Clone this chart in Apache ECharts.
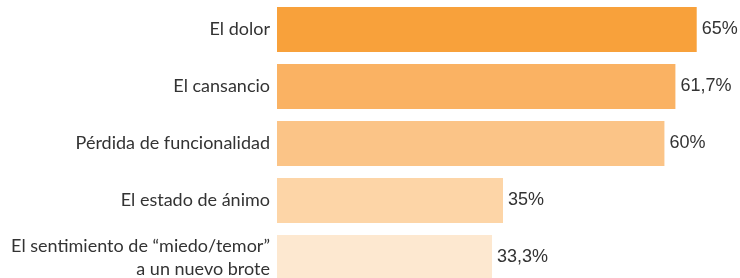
<!DOCTYPE html>
<html>
<head>
<meta charset="utf-8">
<script src="https://cdn.jsdelivr.net/npm/echarts@6/dist/echarts.min.js"></script>
<style>
  html, body { margin: 0; padding: 0; background: #fff; }
  #chart { width: 740px; height: 278px; }
</style>
</head>
<body>
<div id="chart"></div>
<script>
// categorias, de arriba a abajo
const categories = [
    'El dolor',
    'El cansancio',
    'Pérdida de funcionalidad',
    'El estado de ánimo',
    'El sentimiento de “miedo/temor”\na un nuevo brote'
];
const values = [65, 61.7, 60, 35, 33.3];
const valueLabels = ['65%', '61,7%', '60%', '35%', '33,3%'];
const barColors = ['#F8A13B', '#FAB263', '#FBC487', '#FDD5A7', '#FDE8D0'];

const chart = echarts.init(document.getElementById('chart'));

const option = {
    animation: false,
    grid: {
        left: 277,
        right: 11,
        top: 1,
        height: 285,
        outerBoundsMode: 'none'
    },
    xAxis: {
        type: 'value',
        min: 0,
        max: 70,
        show: false
    },
    yAxis: {
        type: 'category',
        inverse: true,
        data: categories,
        axisLine: { show: false },
        axisTick: { show: false },
        axisLabel: {
            margin: 7,
            color: '#333',
            fontFamily: 'Lato',
            fontSize: 18,
            lineHeight: 23,
            align: 'right'
        }
    },
    series: [{
        type: 'bar',
        barWidth: 45,
        data: values.map((v, i) => ({
            value: v,
            itemStyle: { color: barColors[i] }
        })),
        label: {
            show: true,
            position: 'right',
            distance: 5,
            color: '#333',
            fontFamily: 'Liberation Sans',
            fontSize: 18,
            formatter: (p) => valueLabels[p.dataIndex]
        }
    }]
};

chart.setOption(option);
</script>
</body>
</html>
